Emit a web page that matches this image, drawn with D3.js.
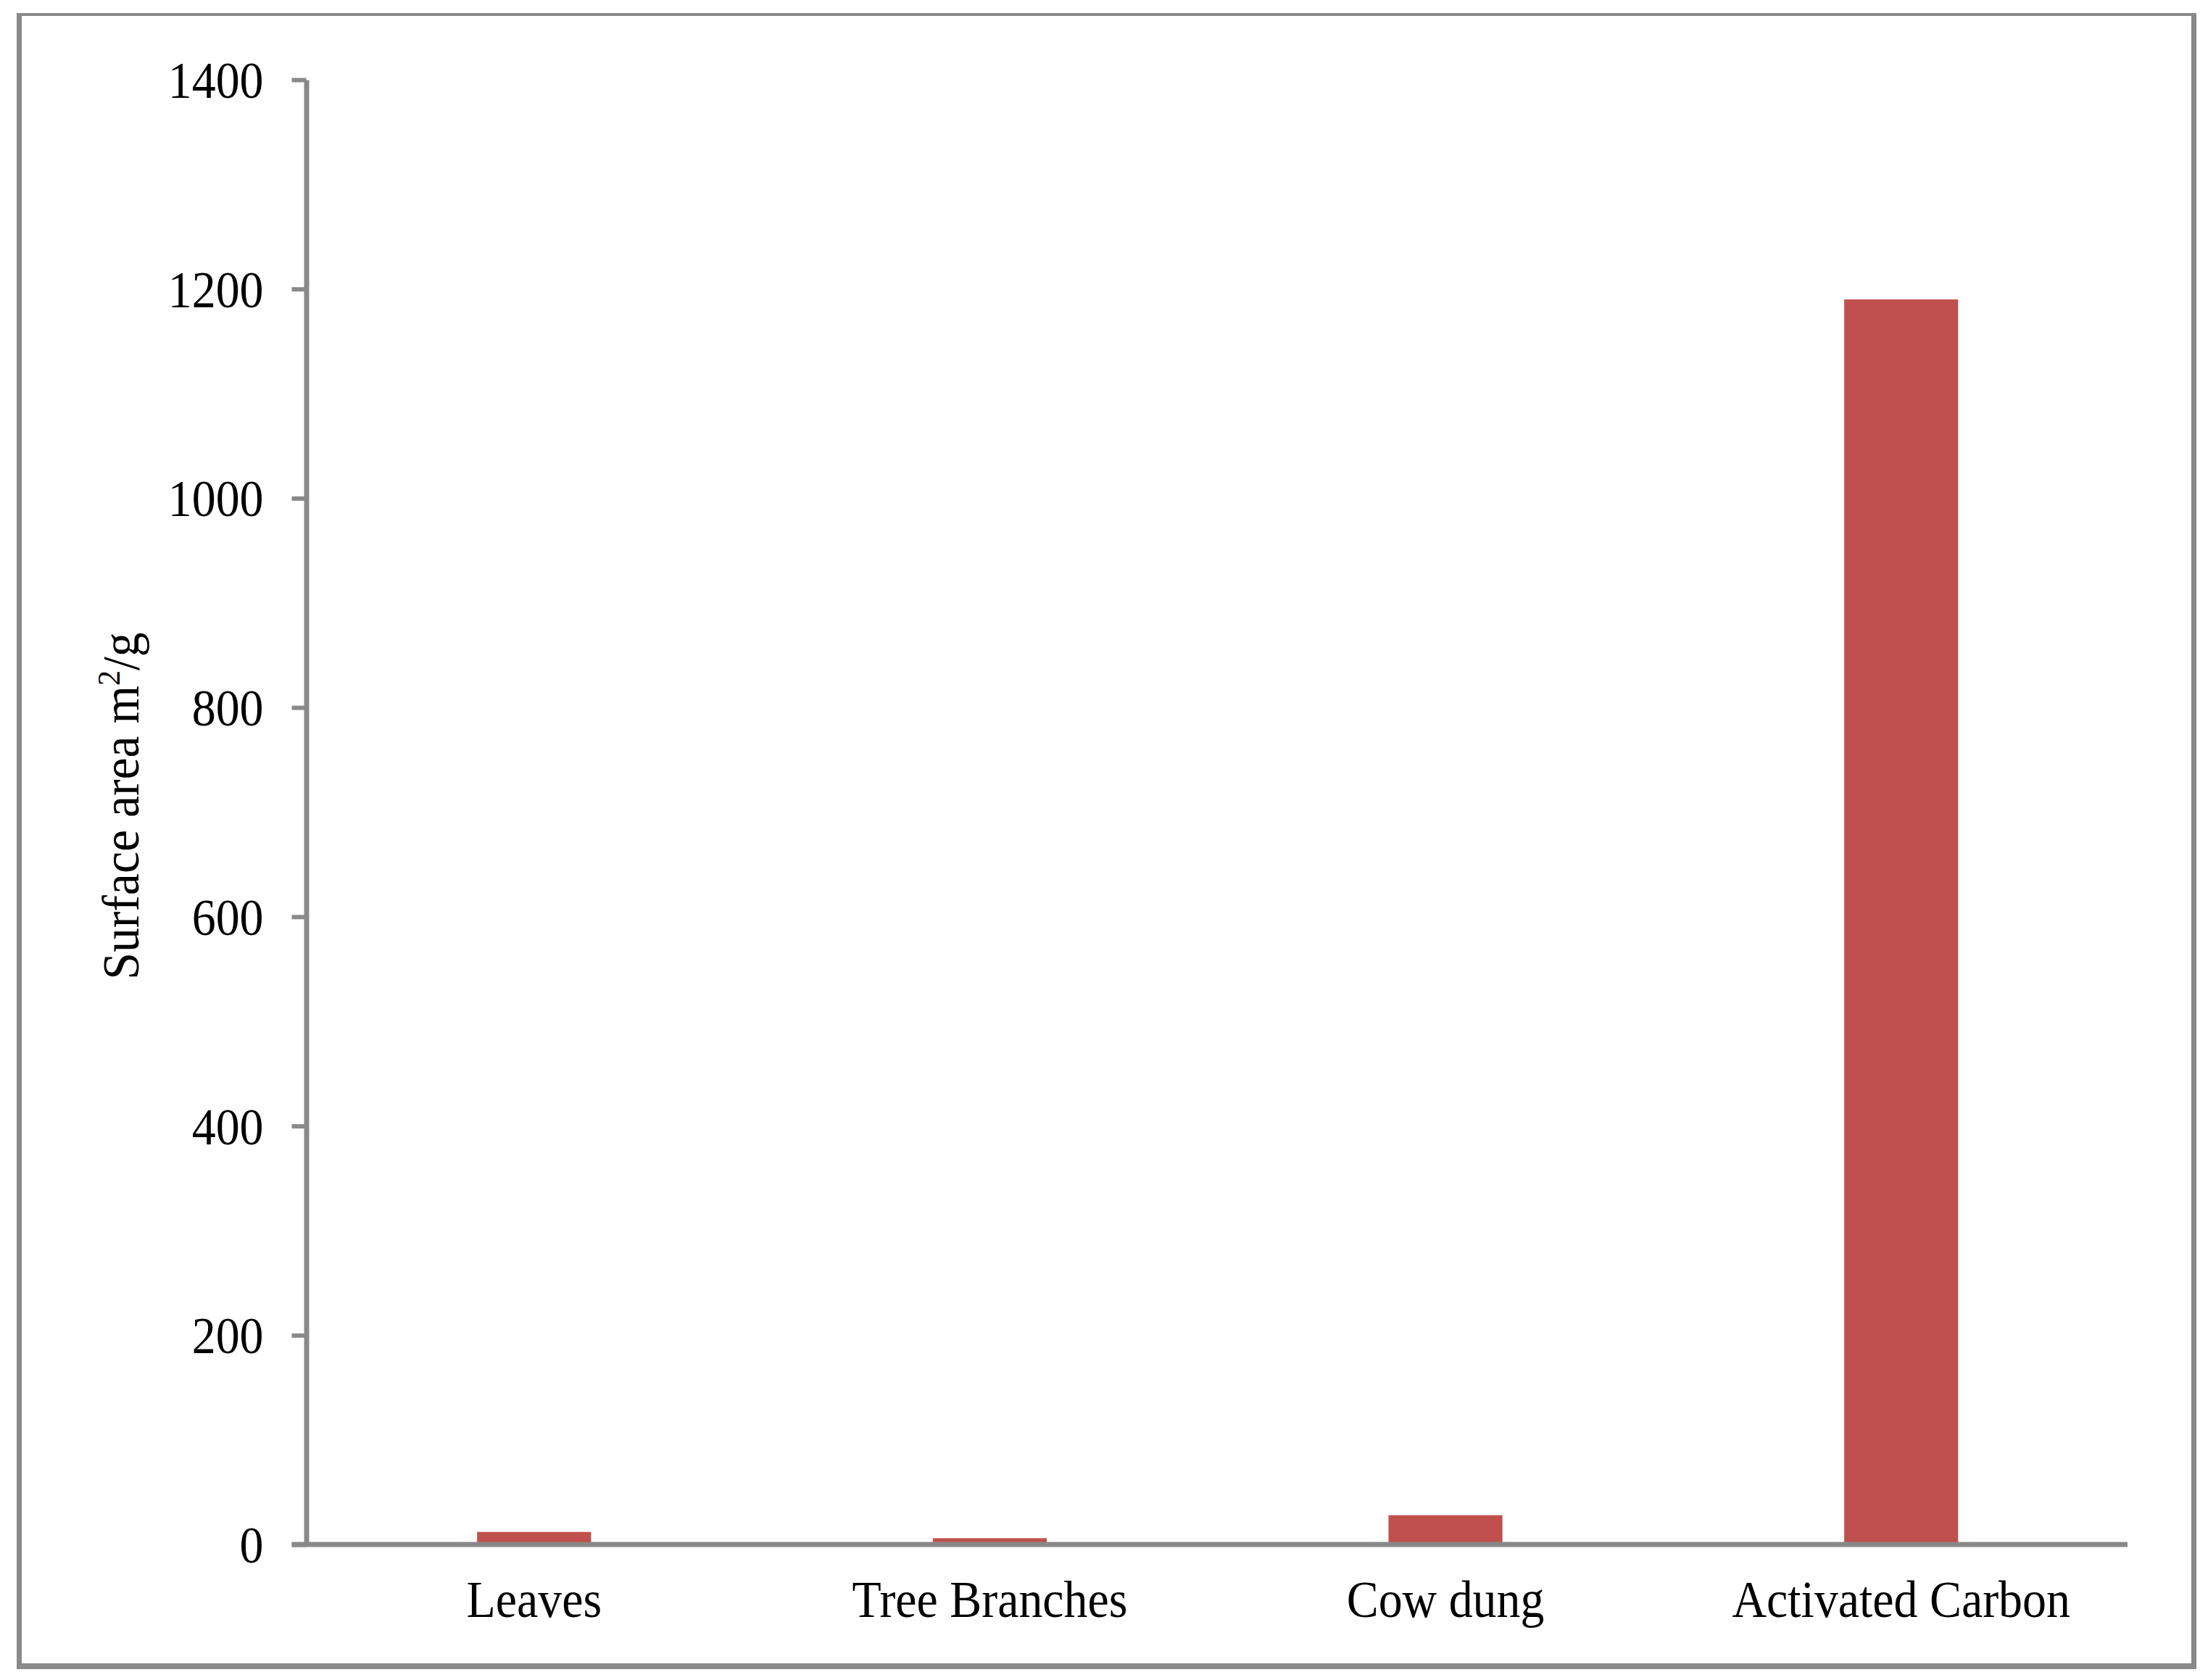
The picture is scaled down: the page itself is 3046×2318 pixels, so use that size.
<!DOCTYPE html>
<html>
<head>
<meta charset="utf-8">
<script src="https://cdn.jsdelivr.net/npm/d3@7"></script>
<style>
  html, body { margin: 0; padding: 0; background: #fff; }
  svg { display: block; }
  text { font-family: "Liberation Serif", "Times New Roman", serif; fill: #000; }
</style>
</head>
<body>
<script>
const categories = ["Leaves", "Tree Branches", "Cow dung", "Activated Carbon"];
const values = [12, 6, 28, 1190];
const yTicks = [0, 200, 400, 600, 800, 1000, 1200, 1400];
const yTitle = "Surface area m";
const yTitleSup = "2";
const yTitleEnd = "/g";

const W = 3046, H = 2318;
const axisColor = "#898989";
const barColor = "#C0504D";
const fontSize = 72;
const squeeze = 0.915;

const svg = d3.select("body").append("svg")
  .attr("width", W).attr("height", H);

svg.append("rect").attr("width", W).attr("height", H).attr("fill", "#fff");

// outer frame
const frame = svg.append("g").attr("stroke", axisColor).attr("fill", "none");
frame.append("line").attr("x1", 23).attr("x2", 3030).attr("y1", 20).attr("y2", 20).attr("stroke-width", 4);
frame.append("line").attr("x1", 26.5).attr("x2", 26.5).attr("y1", 18).attr("y2", 2303).attr("stroke-width", 7);
frame.append("line").attr("x1", 3026.5).attr("x2", 3026.5).attr("y1", 18).attr("y2", 2303).attr("stroke-width", 7);
frame.append("line").attr("x1", 23).attr("x2", 3030).attr("y1", 2299).attr("y2", 2299).attr("stroke-width", 8);

const plotLeft = 422.5, plotRight = 2937, plotTop = 110, plotBottom = 2131;

const x = d3.scaleBand().domain(categories).range([plotLeft, plotRight])
  .paddingInner(0.75).paddingOuter(0.375);
const y = d3.scaleLinear().domain([0, 1400]).range([plotBottom, plotTop]);

// bars
svg.append("g").selectAll("rect").data(values).join("rect")
  .attr("x", (d, i) => x(categories[i]))
  .attr("width", x.bandwidth())
  .attr("y", d => y(d))
  .attr("height", d => y(0) - y(d))
  .attr("fill", barColor);

// y axis
const yAxis = svg.append("g").attr("transform", `translate(${plotLeft},0)`)
  .call(d3.axisLeft(y).tickValues(yTicks).tickFormat(d3.format("d"))
    .tickSizeInner(20).tickSizeOuter(0).tickPadding(39));
yAxis.select(".domain").attr("stroke", axisColor).attr("stroke-width", 7);
yAxis.selectAll(".tick line").attr("stroke", axisColor).attr("stroke-width", 6);
yAxis.selectAll(".tick text").each(function() {
  const t = d3.select(this);
  const xx = +t.attr("x");
  t.attr("x", 0).attr("dy", "0.34em")
    .attr("transform", `translate(${xx},0) scale(${squeeze},1)`)
    .attr("font-size", fontSize)
    .attr("font-family", "Liberation Serif, Times New Roman, serif")
    .attr("fill", "#000");
});

// x axis
const xAxis = svg.append("g").attr("transform", `translate(0,${plotBottom})`)
  .call(d3.axisBottom(x).tickSize(0).tickPadding(0));
xAxis.select(".domain").attr("stroke", axisColor).attr("stroke-width", 7)
  .attr("d", `M${plotLeft - 20},0H${plotRight - 2}`);
xAxis.selectAll(".tick text").each(function() {
  d3.select(this).attr("y", 0).attr("dy", 0)
    .attr("transform", `translate(0,100) scale(${squeeze},1)`)
    .attr("font-size", fontSize)
    .attr("font-family", "Liberation Serif, Times New Roman, serif")
    .attr("fill", "#000");
});

// y title
const title = svg.append("text")
  .attr("transform", `translate(191,1112) rotate(-90) scale(0.94,1)`)
  .attr("text-anchor", "middle")
  .attr("font-size", fontSize);
title.append("tspan").text(yTitle);
title.append("tspan").text(yTitleSup).attr("font-size", fontSize * 0.62).attr("dy", -26);
title.append("tspan").text(yTitleEnd).attr("dy", 26);
</script>
</body>
</html>
